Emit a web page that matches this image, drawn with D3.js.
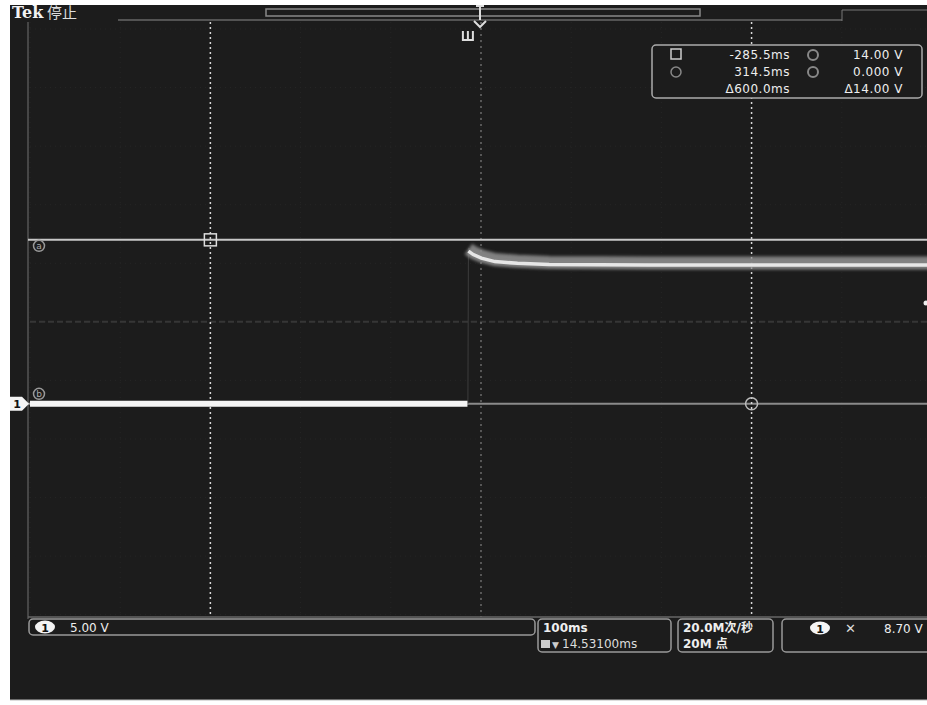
<!DOCTYPE html>
<html>
<head>
<meta charset="utf-8">
<script src="https://cdn.jsdelivr.net/npm/d3@7"></script>
<style>
  body { margin: 0; background: #fff; overflow: hidden; }
  text { font-family: "DejaVu Sans", "Noto Sans CJK SC", sans-serif; }
</style>
</head>
<body>
<svg class="main"></svg>
<script>
// channel 1 trace, time in ms relative to trigger, volts
const timeMs   = [-485.5, -0.5, 0, 0.6, 6, 15, 30, 55, 90, 200, 514.5];
const ch1Volts = [0, 0, 0, 13.3, 13.0, 12.7, 12.4, 12.25, 12.15, 12.1, 12.1];
// cursors
const cursorTimes = [-285.5, 314.5];
const cursorVolts = [14, 0];
const cursorNames = ["a", "b"];
const readTimes = ["-285.5ms", "314.5ms", "\u0394600.0ms"];
const readVolts = ["14.00 V", "0.000 V", "\u039414.00 V"];
// settings
const horizCenter = 14.531;   // ms, horizontal position
const msPerDiv = 100;
const voltsPerDiv = 5;
const statusText = ["Tek", "\u505c\u6b62"];
const chScale = "5.00 V";
const timebase = ["100ms", "14.53100ms"];
const acq = ["20.0M\u6b21/\u79d2", "20M \u70b9"];
const trigLevel = "8.70 V";

document.addEventListener("DOMContentLoaded", function() {
    const width = 927, height = 705;
    const svg = d3.select("svg.main").attr("width", width).attr("height", height);
    const defs = svg.append("defs");
    [["soft", 1.8], ["soft2", 0.7]].forEach(f => {
        defs.append("filter").attr("id", f[0]).attr("filterUnits", "userSpaceOnUse")
            .attr("x", 0).attr("y", 0).attr("width", width).attr("height", height)
            .append("feGaussianBlur").attr("stdDeviation", f[1]);
    });

    // screen
    svg.append("rect").attr("x", 10).attr("y", 5).attr("width", 917).attr("height", 695)
       .style("fill", "#1c1c1c");
    svg.append("line").attr("x1", 10).attr("x2", 927).attr("y1", 700).attr("y2", 700)
       .style("stroke", "#bbb").style("stroke-width", 1);

    const x = d3.scaleLinear().domain([horizCenter - 5 * msPerDiv, horizCenter + 5 * msPerDiv]).range([30, 932]);
    const y = d3.scaleLinear().domain([-18.2, 32.6]).range([617, 22]);
    const top = 22, bottom = 617;

    // graticule (faint)
    const g = svg.append("g");
    const vDivs = d3.range(-5, 6).map(k => horizCenter + k * msPerDiv);
    g.selectAll(".vg").data(vDivs).enter().append("line")
     .attr("x1", d => x(d)).attr("x2", d => x(d)).attr("y1", top).attr("y2", bottom)
     .style("stroke", "#262626").style("stroke-width", 1).style("stroke-dasharray", "1,4");
    const hDivs = d3.range(-5, 6).map(k => 7 + k * voltsPerDiv);
    g.selectAll(".hg").data(hDivs).enter().append("line")
     .attr("x1", 30).attr("x2", 927).attr("y1", d => y(d)).attr("y2", d => y(d))
     .style("stroke", "#262626").style("stroke-width", 1).style("stroke-dasharray", "1,4");
    // centre cross
    g.append("line").attr("x1", 30).attr("x2", 927).attr("y1", y(7)).attr("y2", y(7))
     .style("stroke", "#363636").style("stroke-width", 2).style("stroke-dasharray", "6,3");
    g.append("line").attr("x1", x(horizCenter)).attr("x2", x(horizCenter)).attr("y1", top).attr("y2", bottom)
     .style("stroke", "#6a6a6a").style("stroke-width", 1.5).style("stroke-dasharray", "2,4");
    // border
    g.append("line").attr("x1", 28).attr("x2", 28).attr("y1", top).attr("y2", bottom + 2)
     .style("stroke", "#555").style("stroke-width", 1.5);
    g.append("line").attr("x1", 28).attr("x2", 927).attr("y1", bottom).attr("y2", bottom)
     .style("stroke", "#666").style("stroke-width", 1.5);
    g.append("line").attr("x1", 118).attr("x2", 842).attr("y1", 20).attr("y2", 20)
     .style("stroke", "#666").style("stroke-width", 1.5);

    // horizontal cursors
    svg.selectAll(".hc").data(cursorVolts).enter().append("line")
     .attr("x1", 28).attr("x2", 927).attr("y1", d => y(d)).attr("y2", d => y(d))
     .style("stroke", (d, i) => i === 0 ? "#c8c8c8" : "#8a8a8a").style("stroke-width", 2);
    // vertical cursors
    svg.selectAll(".vc").data(cursorTimes).enter().append("line")
     .attr("x1", d => x(d)).attr("x2", d => x(d)).attr("y1", top).attr("y2", bottom)
     .style("stroke", "#d8d8d8").style("stroke-width", 1.5).style("stroke-dasharray", "2,3");

    // trace
    const line = d3.line().x((d, i) => x(timeMs[i])).y(d => y(d));
    const highLine = d3.line().x((v, i) => x(timeMs[i + 3])).y(v => y(v));
    const highData = ch1Volts.slice(3);
    svg.append("path").datum(ch1Volts).attr("d", line)
     .style("fill", "none").style("stroke", "#3c3c3c").style("stroke-width", 1);
    svg.append("path").datum(highData).attr("d", highLine).attr("filter", "url(#soft)")
     .style("fill", "none").style("stroke", "#8c8c8c").style("stroke-width", 13).style("opacity", 0.9)
     .attr("transform", "translate(0,1)");
    svg.append("path").datum(highData).attr("d", highLine).attr("filter", "url(#soft2)")
     .style("fill", "none").style("stroke", "#e6e6e6").style("stroke-width", 3.5)
     .attr("transform", "translate(0,3)");
    svg.append("path").datum(ch1Volts.slice(0, 2)).attr("d", line).attr("filter", "url(#soft2)")
     .style("fill", "none").style("stroke", "#f4f4f4").style("stroke-width", 6);

    // cursor markers
    svg.append("rect").attr("x", x(cursorTimes[0]) - 6).attr("y", y(cursorVolts[0]) - 6)
     .attr("width", 12).attr("height", 12).style("fill", "none").style("stroke", "#ddd").style("stroke-width", 1.5);
    svg.append("circle").attr("cx", x(cursorTimes[1])).attr("cy", y(cursorVolts[1])).attr("r", 6)
     .style("fill", "none").style("stroke", "#bbb").style("stroke-width", 1.5);
    svg.selectAll(".cn").data(cursorNames).enter().append("g")
     .attr("transform", (d, i) => `translate(39,${y(cursorVolts[i]) + (i === 0 ? 6 : -10)})`)
     .each(function(d) {
        const s = d3.select(this);
        s.append("circle").attr("r", 5.5).style("fill", "none").style("stroke", "#999").style("stroke-width", 1.5);
        s.append("text").attr("y", 3.5).attr("text-anchor", "middle").style("font-size", "9px")
         .style("fill", "#aaa").text(d);
     });

    // channel 1 ground marker
    const gy = y(0);
    svg.append("path").attr("d", `M10,${gy - 7} L22,${gy - 7} L29,${gy} L22,${gy + 7} L10,${gy + 7} Z`)
     .style("fill", "#f4f4f4");
    svg.append("text").attr("x", 17).attr("y", gy + 4.5).attr("text-anchor", "middle")
     .style("font-size", "11px").style("font-weight", "bold").style("fill", "#111").text("1");
    svg.append("circle").attr("cx", 926).attr("cy", 303).attr("r", 2.5).style("fill", "#eee");

    // top status bar
    svg.append("text").attr("x", 12).attr("y", 18).style("font-size", "16px").style("font-weight", "bold")
     .style("font-family", "'DejaVu Serif', serif").style("fill", "#f2f2f2").text(statusText[0]);
    svg.append("text").attr("x", 47).attr("y", 18).style("font-size", "15px")
     .style("font-family", "'Noto Sans CJK SC'").style("fill", "#ddd").text(statusText[1]);
    // record view
    svg.append("rect").attr("x", 266).attr("y", 9).attr("width", 434).attr("height", 7)
     .style("fill", "none").style("stroke", "#888").style("stroke-width", 1.5);
    svg.append("line").attr("x1", 842).attr("x2", 842).attr("y1", 10).attr("y2", 21).style("stroke", "#777");
    svg.append("line").attr("x1", 842).attr("x2", 927).attr("y1", 10).attr("y2", 10).style("stroke", "#777");
    const tx = x(horizCenter) - 1;
    svg.append("path").attr("d", `M${tx - 4},6 L${tx + 4},6 M${tx},6 L${tx},20 M${tx - 6},21 L${tx},27 L${tx + 6},21`)
     .style("fill", "none").style("stroke", "#ddd").style("stroke-width", 2);
    svg.append("path").attr("d", `M${x(0) - 5},31 L${x(0) - 5},40 L${x(0) + 5},40 L${x(0) + 5},31 M${x(0)},31 L${x(0)},40`)
     .style("fill", "none").style("stroke", "#ddd").style("stroke-width", 2);

    // cursor readout
    svg.append("rect").attr("x", 652).attr("y", 45).attr("width", 270).attr("height", 53).attr("rx", 4)
     .style("fill", "#1c1c1c").style("stroke", "#aaa").style("stroke-width", 1.5);
    svg.append("rect").attr("x", 671).attr("y", 49).attr("width", 10).attr("height", 10)
     .style("fill", "none").style("stroke", "#ccc").style("stroke-width", 1.5);
    svg.append("circle").attr("cx", 676).attr("cy", 72).attr("r", 5).style("fill", "none").style("stroke", "#888").style("stroke-width", 1.5);
    [55, 72].forEach(cy => svg.append("circle").attr("cx", 813).attr("cy", cy).attr("r", 5)
        .style("fill", "none").style("stroke", "#888").style("stroke-width", 2));
    svg.selectAll(".rt").data(readTimes).enter().append("text")
     .attr("x", 790).attr("y", (d, i) => 59 + i * 17).attr("text-anchor", "end")
     .style("font-size", "12px").style("letter-spacing", "0.5px").style("fill", "#eee").text(d => d);
    svg.selectAll(".rv").data(readVolts).enter().append("text")
     .attr("x", 903).attr("y", (d, i) => 59 + i * 17).attr("text-anchor", "end")
     .style("font-size", "12px").style("letter-spacing", "0.5px").style("fill", "#eee").text(d => d);

    // bottom bar
    const box = (bx, by, bw, bh) => svg.append("rect").attr("x", bx).attr("y", by).attr("width", bw).attr("height", bh)
        .attr("rx", 4).style("fill", "none").style("stroke", "#999").style("stroke-width", 1.5);
    box(29, 619, 506, 16);
    box(538, 619, 133, 33);
    box(678, 619, 95, 33);
    box(782, 619, 160, 33);
    const oval = (cx, cy) => {
        svg.append("ellipse").attr("cx", cx).attr("cy", cy).attr("rx", 10).attr("ry", 6.5).style("fill", "#f4f4f4");
        svg.append("text").attr("x", cx).attr("y", cy + 4.5).attr("text-anchor", "middle")
         .style("font-size", "11px").style("font-weight", "bold").style("fill", "#111").text("1");
    };
    oval(45, 627);
    svg.append("text").attr("x", 70).attr("y", 632).style("font-size", "12px").style("fill", "#eee").text(chScale);
    svg.append("text").attr("x", 543).attr("y", 632).style("font-size", "12px").style("font-weight", "bold")
     .style("fill", "#eee").text(timebase[0]);
    svg.append("rect").attr("x", 541).attr("y", 640).attr("width", 9).attr("height", 8).style("fill", "#ccc");
    svg.append("text").attr("x", 552).attr("y", 648).style("font-size", "9px").style("fill", "#ccc").text("\u25bc");
    svg.append("text").attr("x", 562).attr("y", 648).style("font-size", "12px").style("fill", "#ddd").text(timebase[1]);
    acq.forEach((t, i) => svg.append("text").attr("x", 683).attr("y", 632 + i * 16)
        .style("font-size", "12px").style("font-weight", "bold").style("fill", "#eee").text(t));
    oval(820, 628);
    svg.append("text").attr("x", 845).attr("y", 633).style("font-size", "13px").style("fill", "#ddd").text("\u2715");
    svg.append("text").attr("x", 884).attr("y", 633).style("font-size", "12px").style("fill", "#eee").text(trigLevel);
});
</script>
</body>
</html>
